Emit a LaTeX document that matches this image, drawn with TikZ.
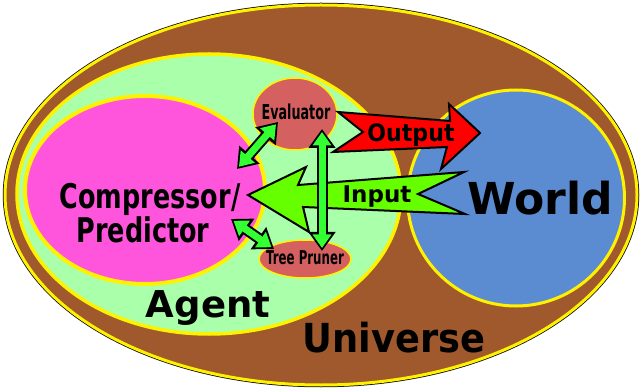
\documentclass[tikz,border=0pt]{standalone}
\usepackage{fontspec}
\setmainfont{DejaVu Sans}
\newfontfamily\narrowfont{DejaVu Sans}[FakeStretch=0.75]
\newfontfamily\thinfont{DejaVu Sans}[FakeStretch=0.62]
\newfontfamily\midfont{DejaVu Sans}[FakeStretch=0.92]
\usepackage{xcolor}
\usepackage{tikz}
\usetikzlibrary{arrows.meta, shapes.geometric}
\definecolor{univbrown}{RGB}{160,89,44}
\definecolor{agentgreen}{RGB}{170,255,170}
\definecolor{compmagenta}{RGB}{255,85,221}
\definecolor{worldblue}{RGB}{91,139,208}
\definecolor{partred}{RGB}{212,96,96}
\definecolor{inputgreen}{RGB}{102,255,0}
\definecolor{linkgreen}{RGB}{51,255,51}
\newcommand{\fsz}[1]{\fontsize{#1}{#1}\selectfont}

\begin{document}
\begin{tikzpicture}[x=1pt, y=-1pt,
  blob/.style={ellipse, inner sep=0pt, draw=yellow},
  bigtext/.style={anchor=base, inner sep=0pt, text=black},
  blockarrow/.style={draw=black, line width=2pt, line join=miter},
  linkback/.style={draw=black, line width=11pt,
    arrows={Triangle[width=26pt,length=19pt]-Triangle[width=26pt,length=19pt]}},
  linkfill/.style={draw=linkgreen, line width=7pt, shorten <=3pt, shorten >=3pt,
    arrows={Triangle[width=18pt,length=13.5pt]-Triangle[width=18pt,length=13.5pt]}}]
\useasboundingbox (0,0) rectangle (640,390);

% nested regions
\node[blob, fill=univbrown, line width=3pt, minimum width=632pt, minimum height=380pt,
  preaction={draw=black, line width=4.5pt}] (universe) at (321,195) {};
\node[blob, fill=agentgreen, line width=3.5pt, minimum width=384pt, minimum height=280pt] (agent) at (209,194) {};
\node[blob, fill=worldblue, line width=3pt, minimum width=217pt, minimum height=216pt] (world) at (516,198) {};
\node[blob, fill=compmagenta, line width=4pt, minimum width=240pt, minimum height=188pt] (comp) at (145,190) {};
\node[blob, fill=partred, line width=1.5pt, minimum width=84pt, minimum height=72pt] (eval) at (295,114) {};
\node[blob, fill=partred, line width=1.5pt, minimum width=92pt, minimum height=38pt] (pruner) at (305,259) {};

% output and input arrows
\filldraw[blockarrow, fill=red] (338,112) -- (363,132) -- (333,152) -- (447,147) -- (441,169)
  -- (480,133) -- (449,104) -- (450,121) -- cycle;
\filldraw[blockarrow, fill=inputgreen] (248,195) -- (306,167) -- (298,185) -- (464,172)
  -- (418,194) -- (465,214) -- (303,207) -- (309,232) -- cycle;

% links between the parts
\coordinate (ce1) at (237,169);
\coordinate (ce2) at (278,122);
\coordinate (cp1) at (231,219);
\coordinate (cp2) at (274,249);
\coordinate (ep1) at (322,129);
\coordinate (ep2) at (322,251);
\foreach \a/\b in {ce1/ce2, cp1/cp2, ep1/ep2}{
  \draw[linkback] (\a) -- (\b);
  \draw[linkfill] (\a) -- (\b);
}

% texts
\node[bigtext, font=\narrowfont\bfseries\fsz{34}] (comptext) at (150,209) {Compressor/};
\node[bigtext, font=\narrowfont\bfseries\fsz{34}] (predtext) at (143,243) {Predictor};
\node[bigtext, font=\bfseries\fsz{44}] (worldtext) at (540,215) {World};
\node[bigtext, font=\bfseries\fsz{37}] (agenttext) at (208,317) {Agent};
\node[bigtext, font=\midfont\bfseries\fsz{40}] (univtext) at (394,352) {Universe};
\node[bigtext, font=\thinfont\bfseries\fsz{20.5}] (evaltext) at (296,120) {Evaluator};
\node[bigtext, font=\thinfont\bfseries\fsz{19}] (prunertext) at (305,265) {Tree Pruner};
\node[bigtext, font=\midfont\bfseries\fsz{24}] (outtext) at (411,142) {Output};
\node[bigtext, font=\bfseries\fsz{23}] (intext) at (377,203) {Input};
\end{tikzpicture}
\end{document}
